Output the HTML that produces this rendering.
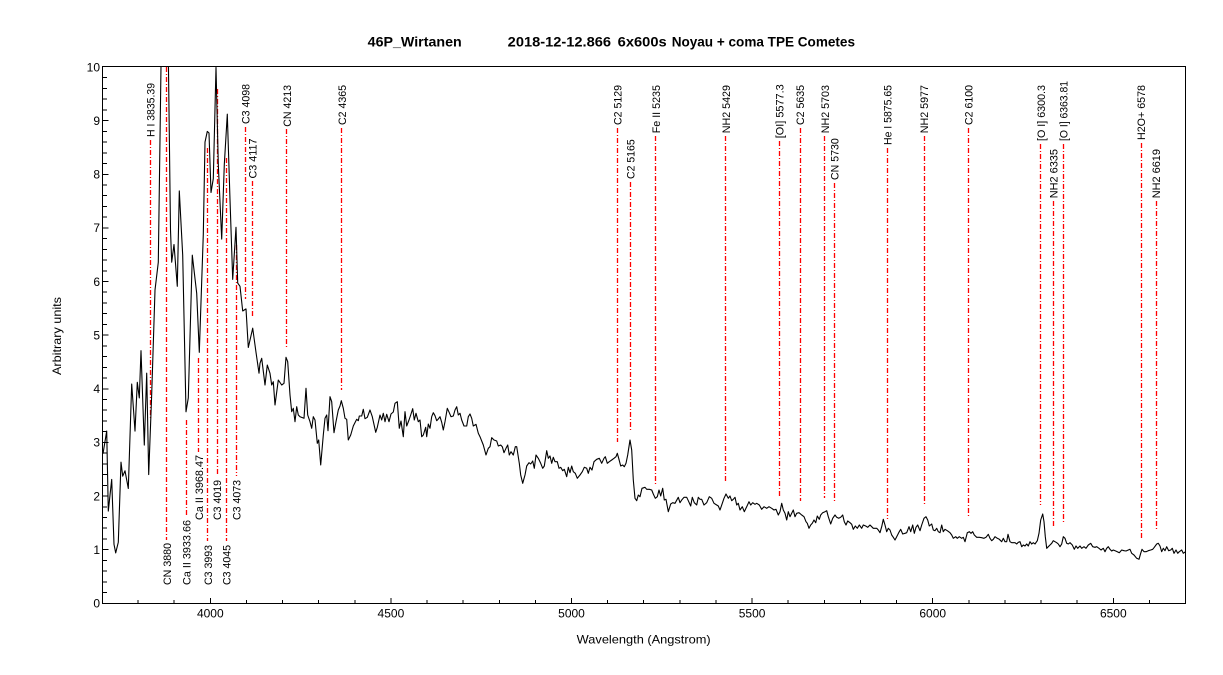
<!DOCTYPE html>
<html>
<head>
<meta charset="utf-8">
<style>
html,body{margin:0;padding:0;background:#fff;}
svg{display:block;}
text{font-family:"Liberation Sans",Arial,sans-serif;fill:#000;}
.lbl{font-size:11px;}
.tk{font-size:12px;}
.rl{stroke:#ff0000;stroke-width:1.3;stroke-dasharray:5,2,1,2;fill:none;}
</style>
</head>
<body>
<svg width="1223" height="675" viewBox="0 0 1223 675" xmlns="http://www.w3.org/2000/svg">
<defs>
<clipPath id="pc"><rect x="103" y="67" width="1082.5" height="536.5"/></clipPath>
</defs>
<rect width="1223" height="675" fill="#fff"/>

<!-- Title -->
<text x="367.7" y="46.7" font-size="14" font-weight="bold" textLength="94" lengthAdjust="spacingAndGlyphs">46P_Wirtanen</text>
<text x="507.7" y="46.7" font-size="14" font-weight="bold" textLength="103.3" lengthAdjust="spacingAndGlyphs">2018-12-12.866</text>
<text x="617.7" y="46.7" font-size="14" font-weight="bold" textLength="49" lengthAdjust="spacingAndGlyphs">6x600s</text>
<text x="671.7" y="46.7" font-size="14" font-weight="bold" textLength="183.3" lengthAdjust="spacingAndGlyphs">Noyau + coma TPE Cometes</text>

<!-- Red marker lines -->
<g class="rl">
<line x1="150.5" y1="140" x2="150.5" y2="419"/>
<line x1="245.5" y1="127" x2="245.5" y2="299"/>
<line x1="252.5" y1="181" x2="252.5" y2="316"/>
<line x1="286.5" y1="129" x2="286.5" y2="348"/>
<line x1="341.5" y1="128" x2="341.5" y2="390"/>
<line x1="617.5" y1="128" x2="617.5" y2="442"/>
<line x1="630.5" y1="182" x2="630.5" y2="432"/>
<line x1="655.5" y1="136" x2="655.5" y2="485"/>
<line x1="725.5" y1="136" x2="725.5" y2="483"/>
<line x1="779.5" y1="141" x2="779.5" y2="498"/>
<line x1="800.5" y1="128" x2="800.5" y2="501"/>
<line x1="824.5" y1="136" x2="824.5" y2="498"/>
<line x1="834.5" y1="183" x2="834.5" y2="501"/>
<line x1="887.5" y1="148" x2="887.5" y2="519"/>
<line x1="924.5" y1="136" x2="924.5" y2="504"/>
<line x1="968.5" y1="128" x2="968.5" y2="518"/>
<line x1="1040.5" y1="144" x2="1040.5" y2="505"/>
<line x1="1053.5" y1="201" x2="1053.5" y2="527"/>
<line x1="1063.5" y1="144" x2="1063.5" y2="523"/>
<line x1="1141.5" y1="143" x2="1141.5" y2="538"/>
<line x1="1156.5" y1="201" x2="1156.5" y2="531"/>
<!-- bottom-label lines -->
<line x1="166.5" y1="67" x2="166.5" y2="540"/>
<line x1="186.5" y1="420" x2="186.5" y2="516"/>
<line x1="198.5" y1="358" x2="198.5" y2="452"/>
<line x1="207.5" y1="148" x2="207.5" y2="541"/>
<line x1="217.5" y1="89" x2="217.5" y2="476"/>
<line x1="226.5" y1="158" x2="226.5" y2="541"/>
<line x1="236.5" y1="245" x2="236.5" y2="476"/>
</g>

<!-- Top labels -->
<g class="lbl">
<text transform="translate(154.6,137) rotate(-90)" textLength="54" lengthAdjust="spacingAndGlyphs">H I 3835.39</text>
<text transform="translate(249.7,124) rotate(-90)" textLength="40" lengthAdjust="spacingAndGlyphs">C3 4098</text>
<text transform="translate(256.6,178.5) rotate(-90)" textLength="40" lengthAdjust="spacingAndGlyphs">C3 4117</text>
<text transform="translate(290.9,126.7) rotate(-90)" textLength="41.7" lengthAdjust="spacingAndGlyphs">CN 4213</text>
<text transform="translate(345.8,125) rotate(-90)" textLength="40" lengthAdjust="spacingAndGlyphs">C2 4365</text>
<text transform="translate(621.6,125) rotate(-90)" textLength="40" lengthAdjust="spacingAndGlyphs">C2 5129</text>
<text transform="translate(634.6,179) rotate(-90)" textLength="39.7" lengthAdjust="spacingAndGlyphs">C2 5165</text>
<text transform="translate(659.8,133.3) rotate(-90)" textLength="48.3" lengthAdjust="spacingAndGlyphs">Fe II 5235</text>
<text transform="translate(729.8,133.3) rotate(-90)" textLength="48.3" lengthAdjust="spacingAndGlyphs">NH2 5429</text>
<text transform="translate(783.4,138.3) rotate(-90)" textLength="54" lengthAdjust="spacingAndGlyphs">[OI] 5577.3</text>
<text transform="translate(804.2,125) rotate(-90)" textLength="40" lengthAdjust="spacingAndGlyphs">C2 5635</text>
<text transform="translate(828.8,133.3) rotate(-90)" textLength="48.3" lengthAdjust="spacingAndGlyphs">NH2 5703</text>
<text transform="translate(838.5,180) rotate(-90)" textLength="41.7" lengthAdjust="spacingAndGlyphs">CN 5730</text>
<text transform="translate(891.4,145) rotate(-90)" textLength="60" lengthAdjust="spacingAndGlyphs">He I 5875.65</text>
<text transform="translate(928.1,133.3) rotate(-90)" textLength="48.3" lengthAdjust="spacingAndGlyphs">NH2 5977</text>
<text transform="translate(972.5,125) rotate(-90)" textLength="40" lengthAdjust="spacingAndGlyphs">C2 6100</text>
<text transform="translate(1044.8,141) rotate(-90)" textLength="56" lengthAdjust="spacingAndGlyphs">[O I] 6300.3</text>
<text transform="translate(1057.5,198.3) rotate(-90)" textLength="49.3" lengthAdjust="spacingAndGlyphs">NH2 6335</text>
<text transform="translate(1067.6,141) rotate(-90)" textLength="60" lengthAdjust="spacingAndGlyphs">[O I] 6363.81</text>
<text transform="translate(1145.1,140) rotate(-90)" textLength="55" lengthAdjust="spacingAndGlyphs">H2O+ 6578</text>
<text transform="translate(1159.9,198.3) rotate(-90)" textLength="49.3" lengthAdjust="spacingAndGlyphs">NH2 6619</text>
<!-- bottom labels -->
<text transform="translate(170.9,585) rotate(-90)" textLength="42" lengthAdjust="spacingAndGlyphs">CN 3880</text>
<text transform="translate(190.3,585) rotate(-90)" textLength="65" lengthAdjust="spacingAndGlyphs">Ca II 3933.66</text>
<text transform="translate(202.9,520) rotate(-90)" textLength="65" lengthAdjust="spacingAndGlyphs">Ca II 3968.47</text>
<text transform="translate(211.8,585) rotate(-90)" textLength="40" lengthAdjust="spacingAndGlyphs">C3 3993</text>
<text transform="translate(221.2,520) rotate(-90)" textLength="40" lengthAdjust="spacingAndGlyphs">C3 4019</text>
<text transform="translate(230.5,585) rotate(-90)" textLength="40" lengthAdjust="spacingAndGlyphs">C3 4045</text>
<text transform="translate(240.7,520) rotate(-90)" textLength="40" lengthAdjust="spacingAndGlyphs">C3 4073</text>
</g>

<!-- Spectrum -->
<g clip-path="url(#pc)">
<polyline fill="none" stroke="#000" stroke-width="1.1" stroke-linejoin="round" points="
103,453.7 106.7,431.1 108.3,511.1 111.7,479.4 114,544.3 115.7,552.9 118.3,542.2 121,462.2 122.7,476.2 125,470.8 128.3,488.5 131.7,384 135,431.1 137.3,382.3 139.3,397.9 141,350.7 144.3,445.1 146.7,373.2 148.7,474.6 151.7,394.1 155,290.1 158.3,262.2 161.5,30 168,30 170.5,230 171.7,262.2 174,244.5 177.3,286.3 179.3,190.9 182.7,255.2 186,411.8 188.3,397.9 192.3,255.2 196.7,293.3 199.3,352.3 203.3,234.3 205,142.1 207.3,131.4 209,133 211,192.5 213.3,178.6 216,67.5 218.3,164.6 221.7,239.1 224.3,164.6 227.3,114.2 230,199.5 232.7,279.4 236,227.3 237.7,283.1 240,286.3 242.7,311 246,308.9 248.3,347.5 252.7,328.2 256,352.3 259,373.2
260,363.3 261.7,358.3 265,385 267.3,365 270,373.3 271.7,385 273.3,381.7 275,405 278.3,380 281.7,385 284,383.3 286,357.3 287.7,361.7 290,395 291.7,411.7 293.3,408.3 295,421.7 296.7,406.7 298.3,415 300,416.7 304,418.3 306,388.3 307.7,415 310,421.7 311.7,428.3 313.3,416.7 315,420 317.3,443.3 318.7,440 320.7,465 323.3,435 325,418.3 326.7,415 328,430.7 330,396.7 331.7,401.7 334,432.7 336,421.7 338.3,410 340,406 341.3,400.7 343.3,408.3 345,418.3 346.7,419.3 348.3,440 350.7,435 353.3,426 356.7,419.3 358.3,420.7 359.3,416 361.7,416 363.3,409.3 365,418.7 367.3,417.3 370,410 372.3,416.7 375.7,432.3 377.3,427.3 380,415 381.7,420 383.3,413.3 385,421.7 386.7,414.3 389,421.7 391,414 393.3,412 395,403.3 397.3,401.7 399.3,428.3 401,421 403.3,436.7 405,411.7 406.7,426 409,420 410.7,415 412.7,408.7 414.3,420 416,413.3 418.3,421.7 420,420 421.7,436.7 423.3,435 425.7,427.3 426.7,436.7 428.3,424 430,428.3 431.7,416.7 433.3,412.7 435,415.7 436.7,420.7 438.3,419 440,416.7 441.7,422.3 443.3,430 445,421.7 447.3,408.3 449.3,412.7 451,416.7 453.3,416 455,410 456.7,406.7 458.3,415 460,413.3 461.7,420 464,426 466.7,426 468.3,416.7 470,414 471.7,418.3 473.3,426 476,424.3 478.3,433.3
480,436.7 483.3,445 486,455 488.3,448.3 490,446.7 491.7,437.7 494,440 496.7,441 498.3,446 500.7,445 502.3,446.7 504,452.7 506,448.3 507.7,445 509.3,455 511,451.7 513.3,455 515.3,446.7 516.7,446.7 519.3,463.3 520.7,475 522.7,483.3 525,475 526.7,466 529,462.7 530.7,464 532.7,461 534.3,468.3 536,455 538.3,458.3 540.7,463.3 542.7,468.3 544.3,466 546.7,450.7 548.3,458.3 550,456 551.7,463.3 553.3,457.3 555,461.7 557.3,461.7 559,468.3 560.7,467.3 562.7,470.7 564.3,469.3 566.7,476.7 568.3,467.3 570,472.7 571.7,466 573.3,471.7 575.3,473.3 577.3,478.3 580,475 582.3,471.7 584.3,467.3 586.7,468.3 588.3,473.3 590,467.3 592,470 594,461.7 596.7,459.3 599.3,458.3 601.7,463.3 604,458.3 605.3,456.7 607.3,463.3 609.3,461.7 611.7,460 614,458.3 616,456.7 617.3,453.3 618.7,458.3 620.7,466 622.7,465 624.3,466.7 626,463.3 627.7,455 630,440 631.7,450 633.3,480 635,498.3 636.7,500.7 638.3,495 640,496.7 642,488.3 645,487.3 646.7,489.3 649.3,489.3 651.7,490 653.3,494 655.3,498.3 657.3,496.7 659,490 660.7,496 662.7,488.3 664.3,500 666,499.3 668.3,511.7 670.7,504 672.7,502.7 675,503.3 678.3,497.3 680,502.7 681.7,500 684,497.3 686.7,497.3 688.3,500.7 690.7,506 692.3,497.3 694.3,502.7 696.7,505 698.3,497.3
700,499.3 701.7,499.3 704,505 706.7,502.7 709.3,496.7 711.7,498.3 714,503.3 716.7,505 718.3,506 720,510 722.3,503.3 724,498.3 726,494 728.3,498.3 730,496 731.7,500.7 733.3,499.3 735,497.3 736.7,505 738.3,503.3 740,510 742.3,506.7 744.3,511.7 746.7,506.7 749,501.7 750.7,505 752.7,502.7 755,504.3 756.7,503.3 759.3,505 761.7,509.3 764,506.7 766.7,508.3 769,506.7 771.7,508.3 774,510 776,509.3 778.3,515 780,511.7 781.7,503.3 783.3,510 785,513.3 786.7,520 788.3,511.7 790,516.7 791.7,513.3 793.3,510 795,516.7 796.7,513.3 799,512.7 801.7,515 804,516.7 806,521.7 807.3,523.3 809,528.3 810.7,525 812.3,523.3 814,520 815.7,522.7 817.3,516 819.3,519.3 820.7,515 822.7,512.7 825,511.7 826.7,510.7 828.3,516.7 830.7,524 832.7,518.3 835,515 836.7,517.3 838.7,518.3 840.7,517.3 842.7,515 844.3,521.7 846,525 847.7,521 850,522.7 851.7,524.3 853.3,529.3 855.3,526 857.3,528.3 859.3,525 861.7,528.3 863.3,525 865.7,526 867.7,527.3 870,525 871.7,526.7 873.3,528.3 876.7,528.3 878.3,530 880,532.7 881.7,526.7 883.3,519.3 885,525 886.7,531.7 888.3,528.3 890,530 891.7,535 893.3,537.3 895,540 896.7,536.7 898.7,532.7 900.7,529.3 902.7,534 905,533.3 906.7,532.7 909,526.7 910.7,531.7 912.7,525 914.3,533.3 916,527.3 917.7,525 920,530.7 921.7,525 924,518.3 926,516.7 927.7,520 929.3,526 931.7,524 933.3,530 935,530.7 936.7,528.3 938.3,531.7 940,532.7 941.7,525
943.3,531.7 945,529.3 947.3,530.7 950,532.7 951.7,535 953.3,538.3 955.7,536.7 957.3,538.3 959.3,536.7 961.7,538.3 963.3,537.3 965,541.7 967.3,532.7 969.3,531.7 971,533.3 972.7,531.7 974.3,535 976.7,537.3 979.3,537.3 981.7,537.7 984,538.3 986,537.3 988.3,534.3 990,538.3 991.7,540.7 993.3,539.3 995,536.7 997.3,538.3 999.3,539.3 1001.7,541.7 1003.3,538.3 1005,541.7 1006.7,541.7 1008,534.3 1010,541.7 1011.7,542.7 1013.3,542.7 1015,542.7 1016.7,544 1018.3,542.3 1020,541.7 1021.7,546.7 1023.3,545 1025,546 1026.7,544 1028.3,546 1030,541.7 1031.7,544 1033.3,542.7 1035,544 1037.3,540.7 1039,533.3 1040.7,520 1042.7,514 1044,521.7 1045.3,536.7 1046.7,548.3 1048.3,546.7 1050,545 1051.7,543.3 1053.3,540.7 1055,541.7 1056.7,542.7 1058.3,544 1060,546.7 1061.7,544 1063.3,536.7 1065,538.3 1066.7,543.3 1068.3,544 1070,542.7 1072.3,545 1074.3,549.3 1076,546 1077.7,548.3 1080,546 1081.7,548.3 1084,546.7 1086,548.3 1088.3,545 1090.7,543.3 1092.7,546.7 1095,547.3 1096.7,546.7 1099,548.3 1101,550 1103.3,548.3 1105,551.7 1106.7,548.3 1108.3,546.7 1110,549.3 1111.7,551 1113.3,550 1115.7,551 1117.3,551.7 1119.3,552.7 1121.7,550 1124,550.7 1126,551 1128.3,550 1130,549.3 1131.7,553.3 1134,555 1136.7,558.3 1139,559.3 1140.7,553.3 1142,549.3 1144,551.7 1146,551.7 1148.3,550.7 1150.7,550 1152.7,549.3 1154.3,547.3 1156.7,544 1158.3,543.3 1160,546 1161.7,551.7 1163.3,548.3 1165,550.7 1166.7,546.7 1168.7,550.7 1170.7,550 1172.3,548.3 1174,553.3 1176,550 1177.7,553.3 1179.3,551.7 1181.7,550 1183.3,553.3 1185.5,551.7"/>
</g>

<!-- Frame -->
<rect x="102.5" y="66.5" width="1083" height="537" fill="none" stroke="#000" stroke-width="1" shape-rendering="crispEdges"/>

<!-- X ticks -->
<g stroke="#000" stroke-width="1" shape-rendering="crispEdges">
<line x1="138.1" y1="603" x2="138.1" y2="600"/>
<line x1="174.2" y1="603" x2="174.2" y2="600"/>
<line x1="210.3" y1="603" x2="210.3" y2="598"/>
<line x1="246.4" y1="603" x2="246.4" y2="600"/>
<line x1="282.5" y1="603" x2="282.5" y2="600"/>
<line x1="318.7" y1="603" x2="318.7" y2="600"/>
<line x1="354.8" y1="603" x2="354.8" y2="600"/>
<line x1="390.9" y1="603" x2="390.9" y2="598"/>
<line x1="427" y1="603" x2="427" y2="600"/>
<line x1="463.1" y1="603" x2="463.1" y2="600"/>
<line x1="499.3" y1="603" x2="499.3" y2="600"/>
<line x1="535.4" y1="603" x2="535.4" y2="600"/>
<line x1="571.5" y1="603" x2="571.5" y2="598"/>
<line x1="607.6" y1="603" x2="607.6" y2="600"/>
<line x1="643.7" y1="603" x2="643.7" y2="600"/>
<line x1="679.9" y1="603" x2="679.9" y2="600"/>
<line x1="716" y1="603" x2="716" y2="600"/>
<line x1="752.1" y1="603" x2="752.1" y2="598"/>
<line x1="788.2" y1="603" x2="788.2" y2="600"/>
<line x1="824.3" y1="603" x2="824.3" y2="600"/>
<line x1="860.5" y1="603" x2="860.5" y2="600"/>
<line x1="896.6" y1="603" x2="896.6" y2="600"/>
<line x1="932.7" y1="603" x2="932.7" y2="598"/>
<line x1="968.8" y1="603" x2="968.8" y2="600"/>
<line x1="1004.9" y1="603" x2="1004.9" y2="600"/>
<line x1="1041.1" y1="603" x2="1041.1" y2="600"/>
<line x1="1077.2" y1="603" x2="1077.2" y2="600"/>
<line x1="1113.3" y1="603" x2="1113.3" y2="598"/>
<line x1="1149.4" y1="603" x2="1149.4" y2="600"/>
</g>

<!-- Y ticks -->
<g stroke="#000" stroke-width="1" shape-rendering="crispEdges">
<line x1="103" y1="603.3" x2="108.5" y2="603.3"/>
<line x1="103" y1="592.6" x2="107" y2="592.6"/>
<line x1="103" y1="581.8" x2="107" y2="581.8"/>
<line x1="103" y1="571.1" x2="107" y2="571.1"/>
<line x1="103" y1="560.4" x2="107" y2="560.4"/>
<line x1="103" y1="549.7" x2="108.5" y2="549.7"/>
<line x1="103" y1="538.9" x2="107" y2="538.9"/>
<line x1="103" y1="528.2" x2="107" y2="528.2"/>
<line x1="103" y1="517.5" x2="107" y2="517.5"/>
<line x1="103" y1="506.8" x2="107" y2="506.8"/>
<line x1="103" y1="496" x2="108.5" y2="496"/>
<line x1="103" y1="485.3" x2="107" y2="485.3"/>
<line x1="103" y1="474.6" x2="107" y2="474.6"/>
<line x1="103" y1="463.9" x2="107" y2="463.9"/>
<line x1="103" y1="453.1" x2="107" y2="453.1"/>
<line x1="103" y1="442.4" x2="108.5" y2="442.4"/>
<line x1="103" y1="431.7" x2="107" y2="431.7"/>
<line x1="103" y1="420.9" x2="107" y2="420.9"/>
<line x1="103" y1="410.2" x2="107" y2="410.2"/>
<line x1="103" y1="399.5" x2="107" y2="399.5"/>
<line x1="103" y1="388.8" x2="108.5" y2="388.8"/>
<line x1="103" y1="378" x2="107" y2="378"/>
<line x1="103" y1="367.3" x2="107" y2="367.3"/>
<line x1="103" y1="356.6" x2="107" y2="356.6"/>
<line x1="103" y1="345.9" x2="107" y2="345.9"/>
<line x1="103" y1="335.2" x2="108.5" y2="335.2"/>
<line x1="103" y1="324.4" x2="107" y2="324.4"/>
<line x1="103" y1="313.7" x2="107" y2="313.7"/>
<line x1="103" y1="303" x2="107" y2="303"/>
<line x1="103" y1="292.2" x2="107" y2="292.2"/>
<line x1="103" y1="281.5" x2="108.5" y2="281.5"/>
<line x1="103" y1="270.8" x2="107" y2="270.8"/>
<line x1="103" y1="260.1" x2="107" y2="260.1"/>
<line x1="103" y1="249.3" x2="107" y2="249.3"/>
<line x1="103" y1="238.6" x2="107" y2="238.6"/>
<line x1="103" y1="227.9" x2="108.5" y2="227.9"/>
<line x1="103" y1="217.2" x2="107" y2="217.2"/>
<line x1="103" y1="206.4" x2="107" y2="206.4"/>
<line x1="103" y1="195.7" x2="107" y2="195.7"/>
<line x1="103" y1="185" x2="107" y2="185"/>
<line x1="103" y1="174.3" x2="108.5" y2="174.3"/>
<line x1="103" y1="163.5" x2="107" y2="163.5"/>
<line x1="103" y1="152.8" x2="107" y2="152.8"/>
<line x1="103" y1="142.1" x2="107" y2="142.1"/>
<line x1="103" y1="131.4" x2="107" y2="131.4"/>
<line x1="103" y1="120.6" x2="108.5" y2="120.6"/>
<line x1="103" y1="109.9" x2="107" y2="109.9"/>
<line x1="103" y1="99.2" x2="107" y2="99.2"/>
<line x1="103" y1="88.5" x2="107" y2="88.5"/>
<line x1="103" y1="77.7" x2="107" y2="77.7"/>
</g>

<!-- Y tick labels -->
<g class="tk" text-anchor="end">
<text x="100" y="607.6">0</text>
<text x="100" y="554">1</text>
<text x="100" y="500.3">2</text>
<text x="100" y="446.7">3</text>
<text x="100" y="393.1">4</text>
<text x="100" y="339.5">5</text>
<text x="100" y="285.8">6</text>
<text x="100" y="232.2">7</text>
<text x="100" y="178.6">8</text>
<text x="100" y="124.9">9</text>
<text x="100" y="71.3">10</text>
</g>

<!-- X tick labels -->
<g class="tk" text-anchor="middle">
<text x="210.3" y="617.5">4000</text>
<text x="390.9" y="617.5">4500</text>
<text x="571.5" y="617.5">5000</text>
<text x="752.1" y="617.5">5500</text>
<text x="932.7" y="617.5">6000</text>
<text x="1113.3" y="617.5">6500</text>
</g>

<!-- Axis titles -->
<text x="576.7" y="643.3" font-size="12" textLength="134" lengthAdjust="spacingAndGlyphs">Wavelength (Angstrom)</text>
<text transform="translate(61,375) rotate(-90)" font-size="12" textLength="78" lengthAdjust="spacingAndGlyphs">Arbitrary units</text>
</svg>
</body>
</html>
